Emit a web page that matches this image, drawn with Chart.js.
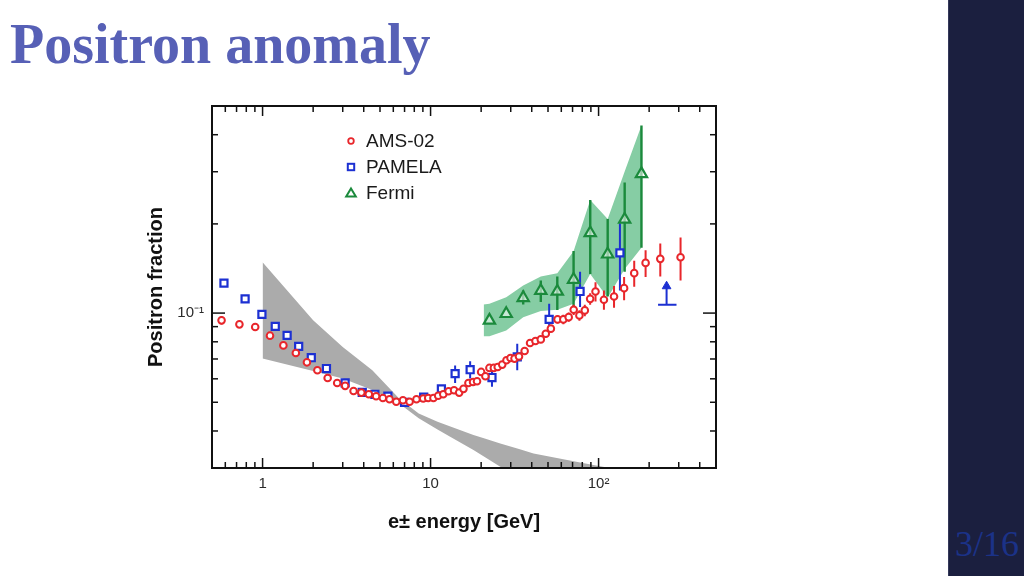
<!DOCTYPE html>
<html><head><meta charset="utf-8">
<script src="https://cdn.jsdelivr.net/npm/chart.js@4"></script>
<style>
html,body{margin:0;padding:0;background:#fff;width:1024px;height:576px;overflow:hidden}
#title{position:absolute;left:10px;top:16px;font:bold 56px/56px "Liberation Serif",serif;color:#5760b6;white-space:nowrap}
#side{position:absolute;left:948px;top:0;width:76px;height:576px;background:#1b1f3f;border-left:1px solid #34385a}
#page{position:absolute;left:955px;top:526px;font:36px/36px "Liberation Serif",serif;color:#1b3288;white-space:nowrap}
#wrap{position:absolute;left:0;top:0;width:1024px;height:576px}
</style></head><body>
<div id="title">Positron anomaly</div>
<div id="side"></div>
<div id="page">3/16</div>
<div id="wrap"><canvas id="c" width="1024" height="576"></canvas></div>
<script>
// ---- data ----
const amsE = [0.57,0.728,0.904,1.107,1.33,1.578,1.837,2.12,2.44,2.78,3.10,3.48,3.87,4.29,4.74,5.2,5.7,6.25,6.85,7.5,8.24,9.04,9.68,10.4,11.1,11.9,12.8,13.8,14.8,15.7,16.8,17.9,18.9,20.0,21.2,22.4,23.8,25.1,26.7,28.3,29.9,31.6,33.6,36.3,39.1,42.1,45.3,48.5,52.0,57.0,61.7,66.4,71.1,76.9,82.8,89.1,95.9,107.6,123.6,141.9,163,190.5,233,307.6];
const amsF = [0.0945,0.0916,0.0897,0.0839,0.0778,0.0733,0.0682,0.0641,0.0604,0.0581,0.0568,0.0546,0.0539,0.0532,0.0524,0.0517,0.0512,0.0502,0.0508,0.0502,0.0512,0.0515,0.0517,0.0517,0.0526,0.0532,0.0545,0.0549,0.0539,0.0555,0.0581,0.0585,0.0589,0.0633,0.0612,0.0653,0.0653,0.0658,0.0670,0.0693,0.0705,0.0702,0.0714,0.0745,0.0793,0.0805,0.0815,0.0852,0.0886,0.0952,0.0952,0.0969,0.1026,0.0982,0.1021,0.1117,0.1183,0.1109,0.1138,0.1214,0.1364,0.1477,0.1524,0.1544];
const amsErr = [0.003,0.002,0.002,0.001,0.001,0.001,0.001,0.001,0.001,0.001,0.001,0.001,0.001,0.001,0.001,0.001,0.001,0.001,0.001,0.001,0.001,0.001,0.001,0.001,0.001,0.001,0.001,0.001,0.001,0.001,0.001,0.001,0.001,0.001,0.001,0.001,0.001,0.001,0.001,0.001,0.0015,0.0015,0.0015,0.0015,0.002,0.002,0.002,0.0025,0.0025,0.003,0.0035,0.0035,0.004,0.004,0.0045,0.005,0.0088,0.0083,0.0096,0.011,0.0137,0.0152,0.0195,0.0255];

const pamE = [0.589,0.787,0.991,1.19,1.4,1.64,1.95,2.40,3.1,3.92,4.66,5.57,7.0,9.1,11.6,14.0,17.2,23.2,32.8,50.8,77.6,134];
const pamF = [0.1262,0.1117,0.099,0.0902,0.0841,0.0772,0.0707,0.065,0.0581,0.054,0.0532,0.0524,0.05,0.052,0.0555,0.0625,0.0644,0.0606,0.0711,0.0952,0.1183,0.1596];
const pamLow  = [null,null,null,null,null,null,null,null,null,null,null,null,null,null,0.0543,0.0581,0.0601,0.0564,0.0641,0.0874,0.1048,0.1192];
const pamHigh = [null,null,null,null,null,null,null,null,null,null,null,null,null,null,0.0567,0.0666,0.0688,0.065,0.0788,0.1075,0.1378,0.2012];
const pamLimitE = 254, pamLimitBase = 0.1067, pamLimitHead = 0.1232, pamLimitLeft = 226, pamLimitRight = 291;

const fermiE = [22.4,28.2,35.6,45.3,56.8,71,89.2,113.3,143,180];
const fermiF = [0.0945,0.0995,0.1126,0.119,0.1183,0.1298,0.1864,0.158,0.207,0.295];
const fermiLow  = [null,null,0.107,0.1089,0.1025,0.1055,0.1356,0.114,0.138,0.166];
const fermiHigh = [null,null,0.1192,0.1288,0.133,0.162,0.2408,0.2078,0.2761,0.43];

const fermiBandE    = [20.7,22.4,28.2,35.6,45.3,56.8,71,89.2,113.3,143,180];
const fermiBandHigh = [0.107,0.1075,0.1132,0.1239,0.1329,0.1364,0.1618,0.2408,0.2078,0.3007,0.43];
const fermiBandLow  = [0.0835,0.0835,0.0874,0.0969,0.1016,0.1026,0.1075,0.1356,0.1126,0.141,0.166];

const grayE    = [1,2,3,4.5,6.5,8.5,11,13,18,21,26,34,41,82,137];
const grayHigh = [0.1485,0.0945,0.0768,0.0641,0.0515,0.0458,0.043,0.0415,0.0388,0.0377,0.0363,0.0347,0.0336,0.0311,0.0295];
const grayLow  = [0.0702,0.0637,0.0601,0.055,0.0495,0.0442,0.0405,0.0383,0.0345,0.0327,0.0303,0.0273,0.025,0.018,0.014];

const xTickValues = [1,10,100];
const xTickLabels = ['1','10','10²'];
const yTickValues = [0.1];
const yTickLabels = ['10⁻¹'];

const legendLabels = ['AMS-02','PAMELA','Fermi'];

// ---- styles ----
const RED='#e8262b', BLUE='#1c30d2', GREEN='#1b8a3c';
const FONT='"Liberation Sans", Arial, sans-serif';
Chart.defaults.font.family = FONT;

function pts(xs, ys){ return xs.map((x,i)=>({x:x, y:ys[i]})); }
function bars(xs, lo, hi){
  const out=[];
  xs.forEach((x,i)=>{ if(lo[i]==null) return; out.push({x:x,y:lo[i]},{x:x,y:hi[i]},{x:x,y:null}); });
  return out;
}
const amsLo = amsF.map((v,i)=>v-amsErr[i]);
const amsHi = amsF.map((v,i)=>v+amsErr[i]);

const lineDs = (data, color, width, order) => ({data, borderColor:color, borderWidth:width, pointRadius:0, showLine:true, spanGaps:false, tension:0, order, fill:false});

const framePlugin = {
  id:'frame',
  afterDatasetsDraw(chart){
    const {ctx, chartArea:a} = chart; const x = chart.scales.x, y = chart.scales.y;
    ctx.save();
    ctx.strokeStyle='#111'; ctx.lineWidth=1.5; ctx.lineCap='butt';
    const seg=(x1,y1,x2,y2)=>{ctx.beginPath();ctx.moveTo(x1,y1);ctx.lineTo(x2,y2);ctx.stroke();};
    [0.1,1,10,100].forEach(d=>{ for(let m=1;m<=9;m++){ const v=m*d; if(v<=x.min*1.001||v>=x.max*0.999) continue;
      const px=x.getPixelForValue(v); const L=(m===1)?10:6; seg(px,a.bottom,px,a.bottom-L); seg(px,a.top,px,a.top+L);} });
    [0.01,0.1].forEach(d=>{ for(let m=1;m<=9;m++){ const v=m*d; if(v<=y.min*1.001||v>=y.max*0.999) continue;
      const py=y.getPixelForValue(v); const L=(m===1)?13:6; seg(a.left,py,a.left+L,py); seg(a.right,py,a.right-L,py);} });
    ctx.lineWidth=2;
    ctx.strokeRect(a.left,a.top,a.right-a.left,a.bottom-a.top);
    ctx.restore();
  }
};

const legendPlugin = {
  id:'legendBox',
  afterDraw(chart){
    const ctx=chart.ctx;
    const mx=351, tx=366, rows=[141,167,193];
    ctx.save();
    ctx.lineWidth=1.8;
    ctx.strokeStyle=RED; ctx.beginPath(); ctx.arc(mx,rows[0],2.8,0,Math.PI*2); ctx.stroke();
    ctx.strokeStyle=BLUE; ctx.lineWidth=2; ctx.strokeRect(mx-3.2,rows[1]-3.2,6.4,6.4);
    ctx.strokeStyle=GREEN; ctx.lineWidth=2; ctx.beginPath();
    ctx.moveTo(mx,rows[2]-4.5); ctx.lineTo(mx+4.8,rows[2]+3.5); ctx.lineTo(mx-4.8,rows[2]+3.5); ctx.closePath(); ctx.stroke();
    ctx.fillStyle='#1a1a1a'; ctx.font='19px '+FONT; ctx.textBaseline='middle'; ctx.textAlign='left';
    legendLabels.forEach((t,i)=>ctx.fillText(t,tx,rows[i]+1));
    ctx.restore();
  }
};

new Chart(document.getElementById('c'), {
  type:'line',
  data:{ datasets:[
    {label:'AMS-02', data:pts(amsE,amsF), showLine:false, pointStyle:'circle', pointRadius:3.3, borderWidth:2, pointBorderColor:RED, pointBackgroundColor:'#fff', borderColor:RED, order:0},
    {label:'PAMELA', data:pts(pamE,pamF), showLine:false, pointStyle:'rect', pointRadius:5, borderWidth:2.2, pointBorderColor:BLUE, pointBackgroundColor:'#fff', borderColor:BLUE, order:1},
    {label:'Fermi', data:pts(fermiE,fermiF), showLine:false, pointStyle:'triangle', pointRadius:6.5, borderWidth:2.2, pointBorderColor:GREEN, pointBackgroundColor:'rgba(255,255,255,0.55)', borderColor:GREEN, order:2},
    lineDs(bars(amsE,amsLo,amsHi), RED, 2, 3),
    lineDs(bars(pamE,pamLow,pamHigh), BLUE, 2, 4),
    lineDs(bars(fermiE,fermiLow,fermiHigh), GREEN, 2.4, 5),
    lineDs([{x:pamLimitE,y:pamLimitBase},{x:pamLimitE,y:pamLimitHead},{x:pamLimitE,y:null},{x:pamLimitLeft,y:pamLimitBase},{x:pamLimitRight,y:pamLimitBase}], BLUE, 2, 4),
    {data:[{x:pamLimitE,y:pamLimitHead}], showLine:false, pointStyle:'triangle', pointRadius:5, borderWidth:1, pointBorderColor:BLUE, pointBackgroundColor:BLUE, order:1},
    {data:pts(fermiBandE,fermiBandLow), borderWidth:0, borderColor:'rgba(0,0,0,0)', pointRadius:0, tension:0, fill:false, order:8},
    {data:pts(fermiBandE,fermiBandHigh), borderWidth:0, borderColor:'rgba(0,0,0,0)', pointRadius:0, tension:0, fill:'-1', backgroundColor:'#86cda4', order:8},
    {data:pts(grayE,grayLow), borderWidth:0, borderColor:'rgba(0,0,0,0)', pointRadius:0, tension:0, fill:false, order:10},
    {data:pts(grayE,grayHigh), borderWidth:0, borderColor:'rgba(0,0,0,0)', pointRadius:0, tension:0, fill:'-1', backgroundColor:'#ababab', order:10}
  ]},
  options:{
    responsive:false, animation:false, events:[], devicePixelRatio:1,
    layout:{padding:{left:130,right:308,top:106,bottom:38}},
    plugins:{legend:{display:false}, tooltip:{enabled:false}},
    scales:{
      x:{type:'logarithmic', min:0.5, max:500,
        grid:{display:false, drawTicks:false}, border:{display:false},
        afterBuildTicks:s=>{ s.ticks = xTickValues.map(v=>({value:v})); },
        ticks:{autoSkip:false, maxRotation:0, minRotation:0, padding:7, color:'#2a2a2a', font:{size:15}, callback:(v,i)=>xTickLabels[i]},
        title:{display:true, text:'e± energy [GeV]', color:'#111', font:{size:20, weight:'bold'}, padding:{top:0,bottom:4}},
        afterFit:s=>{ s.height=70; }
      },
      y:{type:'logarithmic', min:0.03, max:0.5,
        grid:{display:false, drawTicks:false}, border:{display:false},
        afterBuildTicks:s=>{ s.ticks = yTickValues.map(v=>({value:v})); },
        ticks:{autoSkip:false, padding:8, color:'#2a2a2a', font:{size:15}, callback:(v,i)=>yTickLabels[i]},
        title:{display:true, text:'Positron fraction', color:'#111', font:{size:20, weight:'bold'}, padding:{top:14,bottom:0}},
        afterFit:s=>{ s.width=82; }
      }
    }
  },
  plugins:[framePlugin, legendPlugin]
});
</script></body></html>
